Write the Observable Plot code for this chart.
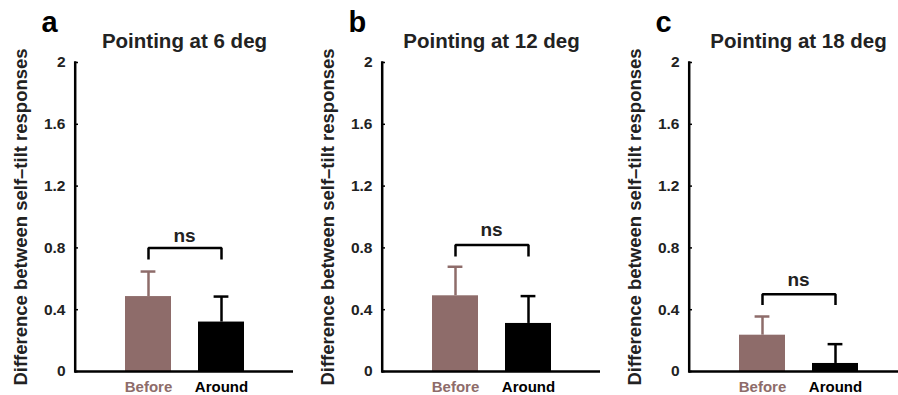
<!DOCTYPE html>
<html><head><meta charset="utf-8">
<script src="https://cdn.jsdelivr.net/npm/d3@7"></script>
<script src="https://cdn.jsdelivr.net/npm/@observablehq/plot@0.6"></script>
<style>
html,body{margin:0;padding:0;background:#fff;overflow:hidden;}
#wrap{position:relative;width:898px;height:395px;overflow:hidden;}
.panel{position:absolute;top:0;}
.panel svg{max-width:none !important;}
</style></head><body><div id="wrap"></div>
<script>
// ---- data ----
const categories = ["Before", "Around"];
const categoryColors = ["#8e6c6a", "#000000"];
const panelLetters = ["a", "b", "c"];
const panelTitles = ["Pointing at 6 deg", "Pointing at 12 deg", "Pointing at 18 deg"];
const beforeMeans = [0.485, 0.49, 0.235];
const beforeErrors = [0.162, 0.188, 0.121];
const aroundMeans = [0.32, 0.311, 0.052];
const aroundErrors = [0.165, 0.177, 0.125];
const bracketTops = [0.80, 0.818, 0.50];
const bracketFeet = [0.725, 0.744, 0.43];
const sigLabelY = [0.84, 0.875, 0.555];
const sigLabel = "ns";
const yTicks = [0, 0.4, 0.8, 1.2, 1.6, 2];
const yDomain = [0, 2];
const yLabel = "Difference between self\u2013tilt responses";

// ---- layout ----
const panelLefts = [0, 300, 600];
const marginLefts = [75, 82, 89];
const frameWidth = 218;
const padInner = 0.37, padOuter = 0.67;
const step = frameWidth / (categories.length - padInner + 2 * padOuter);
const firstCenterOffset = step * padOuter + step * (1 - padInner) / 2;
const FONT = "'Liberation Sans', Arial, Helvetica, sans-serif";
const TEXT = "#222";

const wrap = document.getElementById("wrap");

panelTitles.forEach((title, p) => {
  const rows = categories.map((c, i) => ({
    cat: c,
    color: categoryColors[i],
    mean: i === 0 ? beforeMeans[p] : aroundMeans[p],
    err: i === 0 ? beforeErrors[p] : aroundErrors[p]
  }));
  const bracket = [
    {x: categories[0], y: bracketFeet[p]},
    {x: categories[0], y: bracketTops[p]},
    {x: categories[1], y: bracketTops[p]},
    {x: categories[1], y: bracketFeet[p]}
  ];
  const axisLine = yDomain.map(v => ({x: categories[0], y: v}));
  const W = marginLefts[p] + frameWidth;
  const chart = Plot.plot({
    width: W,
    height: 395,
    marginLeft: marginLefts[p],
    marginRight: 0,
    marginTop: 62,
    marginBottom: 24,
    style: {fontFamily: FONT, fontWeight: "bold", color: TEXT, background: "transparent", overflow: "visible", maxWidth: "none"},
    x: {domain: categories, type: "band", paddingInner: padInner, paddingOuter: padOuter, axis: null},
    y: {domain: yDomain, axis: null},
    marks: [
      Plot.barY(rows, {x: "cat", y: "mean", fill: "color"}),
      Plot.ruleX(rows, {x: "cat", y1: "mean", y2: d => d.mean + d.err, stroke: "color", strokeWidth: 2.5}),
      Plot.tickY(rows, {x: "cat", y: d => d.mean + d.err, stroke: "color", strokeWidth: 2.5, insetLeft: 15.6, insetRight: 15.6}),
      Plot.line(bracket, {x: "x", y: "y", stroke: "#000", strokeWidth: 2.5, strokeLinejoin: "miter", strokeLinecap: "butt"}),
      Plot.text([{label: sigLabel, y: sigLabelY[p]}], {text: "label", y: "y", lineAnchor: "bottom", fontSize: 19, fontWeight: "bold", fill: TEXT}),
      Plot.tickY(yTicks, {y: d => d, stroke: "#000", strokeWidth: 1.5, insetRight: frameWidth - 3}),
      Plot.axisY({ticks: yTicks, tickSize: 0, tickPadding: 10, tickFormat: d => String(d), fontSize: 15.5, fontWeight: "bold", fill: TEXT, label: null}),
      Plot.text(categories, {x: d => d, frameAnchor: "bottom", dy: 20, lineAnchor: "bottom", fill: (d, i) => categoryColors[i], fontSize: 15, fontWeight: "bold"}),
      Plot.text([yLabel], {frameAnchor: "left", textAnchor: "middle", rotate: -90, dx: -54, fontSize: 18.5, fontWeight: "bold", fill: TEXT}),
      Plot.text([title], {frameAnchor: "top", dy: -15, lineAnchor: "bottom", fontSize: 20.5, fontWeight: "bold", fill: TEXT}),
      Plot.text([panelLetters[p]], {frameAnchor: "top-left", dx: -34, dy: -31, textAnchor: "start", lineAnchor: "bottom", fontSize: 29, fontWeight: "bold", fill: "#000"}),
      Plot.ruleY([0], {stroke: "#000", strokeWidth: 2.5}),
      Plot.line(axisLine, {x: "x", y: "y", dx: -firstCenterOffset - 1, stroke: "#000", strokeWidth: 2.5, strokeLinecap: "square"})
    ]
  });
  const div = document.createElement("div");
  div.className = "panel";
  div.style.left = panelLefts[p] + "px";
  div.style.width = W + "px";
  div.appendChild(chart);
  wrap.appendChild(div);
});
</script>
</body></html>
